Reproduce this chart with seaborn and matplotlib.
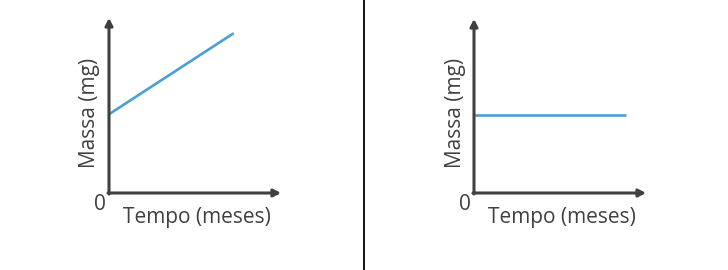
import matplotlib
matplotlib.use("Agg")
import matplotlib.pyplot as plt
import seaborn as sns
import pandas as pd
from matplotlib.lines import Line2D

sns.set_style("white")
plt.rcParams['font.family'] = ['Open Sans', 'DejaVu Sans']

# Data (arbitrary units, axes span 0..10)
tempo_a = [0, 7.2]
massa_a = [4.5, 9.1]
tempo_b = [0, 8.8]
massa_b = [4.5, 4.5]
xlabel = "Tempo (meses)"
ylabel = "Massa (mg)"
origin_label = "0"

W, H = 728, 270
fig = plt.figure(figsize=(W / 100, H / 100), dpi=100)

axis_color = "#404040"
line_color = "#4a9fd4"
text_color = "#404040"

def panel(x0, ytop, ybot, xr, tempo, massa):
    ax = fig.add_axes([x0 / W, (H - ybot) / H, (xr - x0) / W, (ybot - ytop) / H])
    df = pd.DataFrame({"t": tempo, "m": massa})
    sns.lineplot(data=df, x="t", y="m", ax=ax, color=line_color, lw=1.9)
    ax.set_xlim(0, 10)
    ax.set_ylim(0, 10)
    ax.set_xticks([])
    ax.set_yticks([])
    ax.set_xlabel("")
    ax.set_ylabel("")
    for s in ax.spines.values():
        s.set_visible(False)
    ax.patch.set_alpha(0)
    ap = dict(arrowstyle="-|>,head_length=0.42,head_width=0.22", color=axis_color,
              lw=2.2, shrinkA=0, shrinkB=0)
    ax.annotate("", xy=(1, 0), xytext=(-0.006, 0), xycoords="axes fraction",
                arrowprops=ap, annotation_clip=False)
    ax.annotate("", xy=(0, 1), xytext=(0, -0.006), xycoords="axes fraction",
                arrowprops=ap, annotation_clip=False)
    w = xr - x0
    h = ybot - ytop
    ax.text(-19 / w, 80 / h, ylabel, rotation=90, ha="center", va="center",
            fontsize=15, color=text_color, transform=ax.transAxes)
    ax.text(88 / w, -24 / h, xlabel, ha="center", va="center",
            fontsize=15, color=text_color, transform=ax.transAxes)
    ax.text(-9 / w, -12 / h, origin_label, ha="center", va="center",
            fontsize=15, color=text_color, transform=ax.transAxes)
    return ax

panel(109, 18, 193, 281, tempo_a, massa_a)
panel(474, 19, 193, 646, tempo_b, massa_b)

fig.add_artist(Line2D([364 / W, 364 / W], [0, 1], color="black", lw=1.3,
                      transform=fig.transFigure))

fig.savefig("out.png", dpi=100)
